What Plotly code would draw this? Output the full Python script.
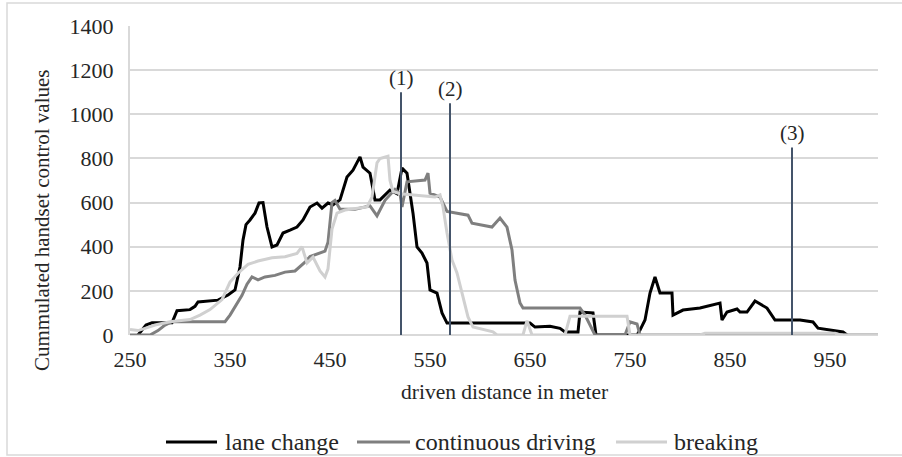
import plotly.graph_objects as go

# ---- data ----
lane_x = [258, 262, 266, 272, 292, 297, 310, 315, 318, 338, 348, 355, 360, 363, 366, 370, 375, 379, 383,
          387, 392, 397, 403, 410, 417, 423, 430, 437, 442, 448, 453, 460, 467, 473, 480, 483, 490, 495,
          500, 510, 517, 522, 527, 533, 537, 542, 547, 550, 557, 562, 567, 650, 655, 670, 680, 685, 698,
          700, 713, 716, 757, 760, 765, 770, 775, 780, 792, 793, 803, 820, 840, 842, 847, 857, 860, 867,
          875, 887, 895, 920, 933, 938, 963, 967]
lane_y = [0, 20, 45, 55, 55, 110, 115, 130, 150, 158, 181, 204, 308, 430, 500, 521, 552, 598, 600,
          489, 399, 408, 462, 475, 489, 521, 580, 598, 575, 598, 590, 612, 716, 747, 807, 761, 733, 612,
          612, 657, 640, 756, 733, 552, 399, 371, 326, 204, 190, 100, 54, 54, 36, 40, 30, 14, 14,
          104, 100, 0, 0, 22, 68, 190, 263, 190, 190, 90, 113, 122, 145, 68, 104, 118, 104, 104,
          154, 122, 68, 68, 59, 31, 14, 0]

cont_x = [250, 270, 278, 285, 292, 345, 350, 355, 362, 367, 372, 378, 385, 395, 405, 415, 425, 430, 440,
          445, 448, 452, 455, 460, 475, 490, 497, 505, 515, 520, 522, 527, 545, 548, 550, 560, 567, 588,
          592, 612, 620, 627, 632, 635, 640, 643, 700, 705, 715, 745, 750, 757, 760, 998]
cont_y = [0, 0, 20, 45, 60, 60, 90, 127, 180, 230, 263, 250, 263, 270, 285, 290, 330, 355, 370,
          380, 420, 600, 610, 570, 570, 585, 540, 610, 660, 640, 580, 694, 702, 733, 643, 625, 560, 543,
          507, 489, 530, 489, 385, 249, 145, 122, 122, 90, 0, 0, 60, 50, 0, 0]

brake_x = [250, 258, 265, 275, 290, 310, 320, 330, 342, 350, 358, 368, 378, 392, 405, 417, 422, 427, 433,
           440, 445, 448, 452, 457, 465, 487, 492, 497, 500, 508, 510, 513, 520, 555, 560, 563, 567, 572,
           577, 583, 588, 593, 613, 617, 643, 647, 652, 685, 690, 747, 750, 820, 825, 955, 960, 998]
brake_y = [25, 20, 30, 45, 60, 70, 90, 115, 160, 240, 280, 320, 335, 350, 355, 370, 400, 326, 353,
           290, 263, 300, 480, 552, 566, 580, 625, 780, 800, 810, 700, 650, 640, 625, 635, 580, 462, 340,
           281, 172, 82, 36, 14, 0, 0, 65, 0, 0, 85, 85, 0, 0, 8, 8, 0, 0]

marker_x = [521, 570, 912]
marker_top = [1100, 1050, 850]
marker_labels = ["(1)", "(2)", "(3)"]

x_ticks = [250, 350, 450, 550, 650, 750, 850, 950]
y_ticks = [0, 200, 400, 600, 800, 1000, 1200, 1400]

series = [
    ("lane change", lane_x, lane_y, "#000000"),
    ("continuous driving", cont_x, cont_y, "#7f7f7f"),
    ("breaking", brake_x, brake_y, "#d0d0d0"),
]

FONT = "Liberation Serif"
TXT = "#262626"
W, H = 902, 457
L, R, T, B = 130, 878, 26, 335

def px2paper_x(px):
    return (px - L) / (R - L)

def px2paper_y(py):
    return (B - py) / (B - T)

fig = go.Figure()
for name, xs, ys, col in series:
    fig.add_trace(go.Scatter(x=xs, y=ys, mode="lines", name=name,
                             line=dict(color=col, width=3), showlegend=False))

mx, my = [], []
for x, t in zip(marker_x, marker_top):
    mx += [x, x, None]
    my += [0, t, None]
fig.add_trace(go.Scatter(x=mx, y=my, mode="lines", line=dict(color="#44546a", width=2),
                         showlegend=False, hoverinfo="skip"))

annotations = []
for x, t, lab in zip(marker_x, marker_top, marker_labels):
    annotations.append(dict(x=x, y=t, xref="x", yref="y", text=lab, showarrow=False,
                            yanchor="bottom", xanchor="center", font=dict(family=FONT, size=21, color=TXT)))

# axis titles
annotations.append(dict(x=0.5, y=px2paper_y(392), xref="paper", yref="paper",
                        text="driven distance in meter", showarrow=False,
                        xanchor="center", yanchor="middle", font=dict(family=FONT, size=21.5, color=TXT)))
annotations.append(dict(x=px2paper_x(42), y=px2paper_y(220), xref="paper", yref="paper",
                        text="Cummulated handset control values", showarrow=False, textangle=-90,
                        xanchor="center", yanchor="middle", font=dict(family=FONT, size=21, color=TXT)))

# manual legend
shapes = []
leg_y = px2paper_y(442)
leg_items = [(166, 217, 223), (357, 410, 413), (616, 667, 672)]
for (name, xs, ys, col), (a, b, tx) in zip(series, leg_items):
    shapes.append(dict(type="line", xref="paper", yref="paper", x0=px2paper_x(a), x1=px2paper_x(b),
                       y0=leg_y, y1=leg_y, line=dict(color=col, width=3)))
    annotations.append(dict(x=px2paper_x(tx), y=leg_y, xref="paper", yref="paper", text=name,
                            showarrow=False, xanchor="left", yanchor="middle",
                            font=dict(family=FONT, size=24, color=TXT)))

# chart border
shapes.append(dict(type="rect", xref="paper", yref="paper", x0=px2paper_x(7), x1=px2paper_x(906),
                   y0=px2paper_y(455), y1=px2paper_y(3), line=dict(color="#d9d9d9", width=1.5),
                   fillcolor="rgba(0,0,0,0)", layer="below"))

fig.update_layout(
    width=W, height=H,
    margin=dict(l=L, r=W - R, t=T, b=H - B),
    paper_bgcolor="white", plot_bgcolor="white",
    showlegend=False,
    annotations=annotations, shapes=shapes,
    xaxis=dict(range=[250, 998], tickmode="array", tickvals=x_ticks, ticktext=[str(v) for v in x_ticks],
               showgrid=False, zeroline=False, showline=False, ticks="", ticklabelstandoff=9,
               tickfont=dict(family=FONT, size=22, color=TXT)),
    yaxis=dict(range=[0, 1400], tickmode="array", tickvals=y_ticks, ticktext=[str(v) for v in y_ticks],
               showgrid=True, gridcolor="#d9d9d9", gridwidth=2, zeroline=True, zerolinecolor="#d9d9d9",
               zerolinewidth=2, showline=True, linecolor="#d9d9d9", linewidth=2, ticks="",
               ticklabelstandoff=10,
               tickfont=dict(family=FONT, size=22, color=TXT)),
)

fig.write_html("out.html")
